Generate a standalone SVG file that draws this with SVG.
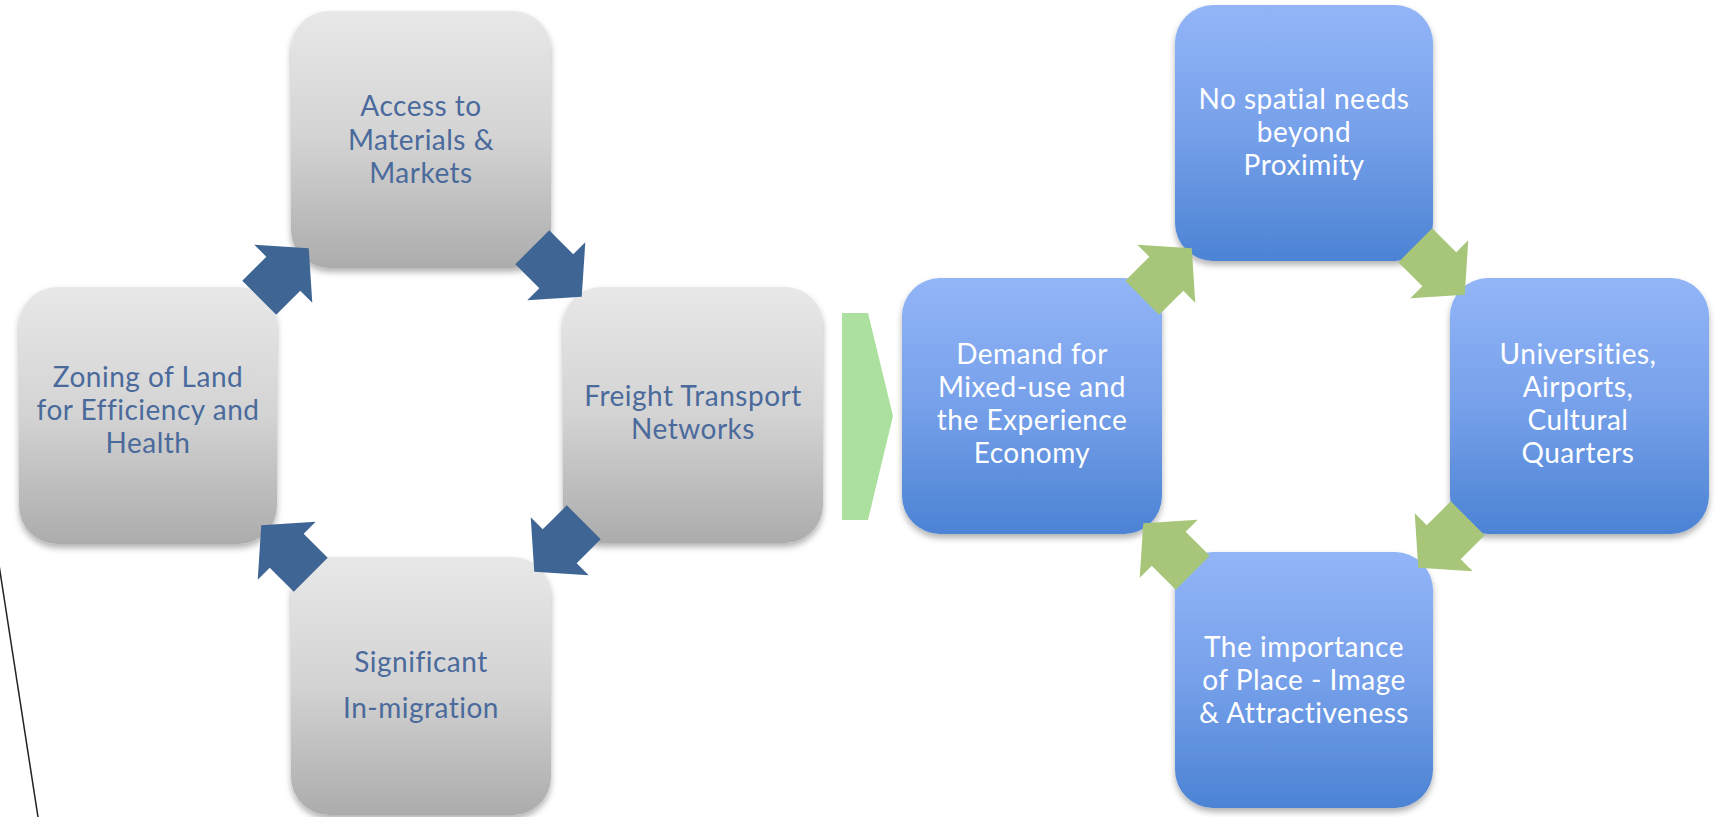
<svg xmlns="http://www.w3.org/2000/svg" width="1719" height="817" viewBox="0 0 1719 817">
<defs>
<linearGradient id="gGray" x1="0" y1="0" x2="0" y2="1">
<stop offset="0" stop-color="#e8e8e8"/>
<stop offset="0.5" stop-color="#d3d3d3"/>
<stop offset="1" stop-color="#acacac"/>
</linearGradient>
<linearGradient id="gBlue" x1="0" y1="0" x2="0" y2="1">
<stop offset="0" stop-color="#92b5f7"/>
<stop offset="0.5" stop-color="#76a0ea"/>
<stop offset="1" stop-color="#4c83d4"/>
</linearGradient>
<filter id="sh" x="-10%" y="-10%" width="120%" height="125%">
<feDropShadow dx="0" dy="4" stdDeviation="3" flood-color="#000" flood-opacity="0.3"/>
</filter>
<polygon id="arr" points="-35,-24 -1,-24 -1,-41 35,0 -1,41 -1,24 -35,24"/>
</defs>
<style>
.gt,.bt{font-family:Lato,"Liberation Sans",sans-serif;font-size:28px;text-anchor:middle;font-variant-ligatures:none;letter-spacing:0.5px}
.gbox{fill:url(#gGray);filter:url(#sh)}
.bbox{fill:url(#gBlue);filter:url(#sh)}
.gt{fill:#4a6a9c}
.bt{fill:#ffffff}
.ab{fill:#3e6594}
.ag{fill:#a8c67a}
</style>
<rect width="1719" height="817" fill="#ffffff"/>
<line x1="-1" y1="565" x2="38" y2="817" stroke="#222" stroke-width="1.5"/>
<g id="n-access">
<rect class="gbox" x="291" y="11" width="260" height="257" rx="38"/>
<text class="gt"><tspan x="421" y="116">Access to</tspan><tspan x="421" y="150">Materials &amp;</tspan><tspan x="421" y="183">Markets</tspan></text>
</g>
<g id="n-zoning">
<rect class="gbox" x="19" y="287" width="258" height="257" rx="38"/>
<text class="gt"><tspan x="148" y="387">Zoning of Land</tspan><tspan x="148" y="420">for Efficiency and</tspan><tspan x="148" y="453">Health</tspan></text>
</g>
<g id="n-freight">
<rect class="gbox" x="563" y="287" width="260" height="256" rx="38"/>
<text class="gt"><tspan x="693" y="406">Freight Transport</tspan><tspan x="693" y="439">Networks</tspan></text>
</g>
<g id="n-migration">
<rect class="gbox" x="291" y="557" width="260" height="258" rx="38"/>
<text class="gt"><tspan x="421" y="672">Significant</tspan><tspan x="421" y="718">In-migration</tspan></text>
</g>
<polygon id="chevron" points="842,313 868,313 893,416 868,520 842,520" fill="#abe09e"/>
<g id="n-nospatial">
<rect class="bbox" x="1175" y="5" width="258" height="256" rx="38"/>
<text class="bt"><tspan x="1304" y="109">No spatial needs</tspan><tspan x="1304" y="142">beyond</tspan><tspan x="1304" y="175">Proximity</tspan></text>
</g>
<g id="n-demand">
<rect class="bbox" x="902" y="278" width="260" height="256" rx="38"/>
<text class="bt"><tspan x="1032" y="364">Demand for</tspan><tspan x="1032" y="397">Mixed-use and</tspan><tspan x="1032" y="430">the Experience</tspan><tspan x="1032" y="463">Economy</tspan></text>
</g>
<g id="n-universities">
<rect class="bbox" x="1450" y="278" width="259" height="256" rx="38"/>
<text class="bt"><tspan x="1578" y="364">Universities,</tspan><tspan x="1578" y="397">Airports,</tspan><tspan x="1578" y="430">Cultural</tspan><tspan x="1578" y="463">Quarters</tspan></text>
</g>
<g id="n-importance">
<rect class="bbox" x="1175" y="552" width="258" height="256" rx="38"/>
<text class="bt"><tspan x="1304" y="657">The importance</tspan><tspan x="1304" y="690">of Place - Image</tspan><tspan x="1304" y="723">&amp; Attractiveness</tspan></text>
</g>
<g id="connectors">
<use href="#arr" class="ab" transform="translate(284,273) rotate(-45)"/>
<use href="#arr" class="ab" transform="translate(557,272) rotate(45)"/>
<use href="#arr" class="ab" transform="translate(559,547) rotate(135)"/>
<use href="#arr" class="ab" transform="translate(286,550) rotate(-135)"/>
<use href="#arr" class="ag" transform="translate(1167,273) rotate(-45)"/>
<use href="#arr" class="ag" transform="translate(1440,270) rotate(45)"/>
<use href="#arr" class="ag" transform="translate(1443,543) rotate(135)"/>
<use href="#arr" class="ag" transform="translate(1168,548) rotate(-135)"/>
</g>
</svg>
